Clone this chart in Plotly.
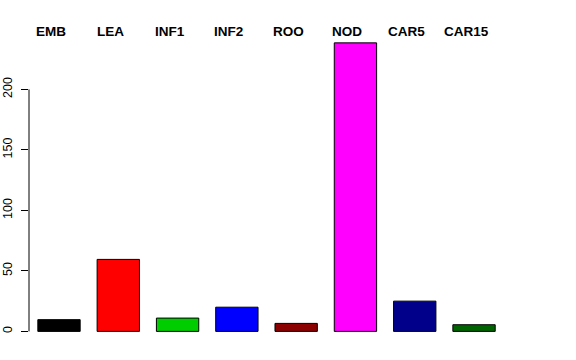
import plotly.graph_objects as go

categories = ["EMB", "LEA", "INF1", "INF2", "ROO", "NOD", "CAR5", "CAR15"]
values = [9.7, 59.5, 11, 20, 6.6, 238.5, 25, 5.5]
colors = ["#000000", "#FF0000", "#00CD00", "#0000FF", "#8B0000", "#FF00FF", "#00008B", "#006400"]
y_ticks = [0, 50, 100, 150, 200]

positions = list(range(len(categories)))

fig = go.Figure()
fig.add_trace(go.Bar(
    x=positions, y=values, width=0.714,
    marker=dict(color=colors, line=dict(color="#000000", width=1)),
    hoverinfo="skip",
))

for p, name in zip(positions, categories):
    fig.add_annotation(x=p, y=1, xref="x", yref="paper", text="<b>" + name + "</b>",
                       showarrow=False, yanchor="middle", xshift=-8,
                       font=dict(family="Liberation Sans, Arial, sans-serif", size=13.5, color="#000000"))

fig.add_shape(type="line", xref="paper", yref="y", x0=0, x1=0, y0=y_ticks[0], y1=y_ticks[-1],
              line=dict(color="#000000", width=1))

fig.update_layout(
    width=576, height=360,
    margin=dict(l=29, r=46, t=31, b=17),
    paper_bgcolor="white", plot_bgcolor="white",
    showlegend=False,
    font=dict(family="Liberation Sans, Arial, sans-serif", size=12, color="#000000"),
    xaxis=dict(range=[-0.506, 7.944], visible=False, automargin=False),
    yaxis=dict(range=[-9.6, 248.3], tickvals=y_ticks, ticks="outside", ticklen=7,
               tickcolor="#000000", tickangle=-90, showgrid=False, zeroline=False,
               showline=False, ticklabelstandoff=4, automargin=False,
               tickfont=dict(size=12.5)),
)

fig.write_html("out.html")
